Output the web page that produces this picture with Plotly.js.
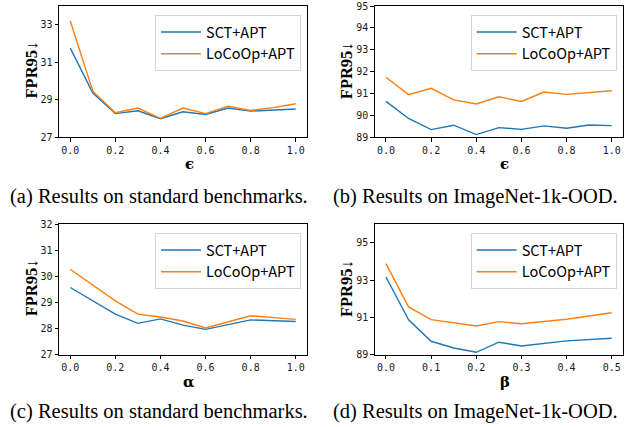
<!DOCTYPE html>
<html>
<head>
<meta charset="utf-8">
<script src="https://cdn.plot.ly/plotly-3.0.1.min.js"></script>
<style>html,body{margin:0;padding:0;background:#fff;}#chart{width:626px;height:427px;}</style>
</head>
<body>
<div id="chart"></div>
<script>
// ---- data ----
const epsilon = [0.0, 0.1, 0.2, 0.3, 0.4, 0.5, 0.6, 0.7, 0.8, 0.9, 1.0];
const aSCT   = [31.75, 29.35, 28.25, 28.40, 27.98, 28.35, 28.20, 28.55, 28.38, 28.45, 28.50];
const aLoCo  = [33.20, 29.45, 28.30, 28.55, 28.00, 28.55, 28.25, 28.65, 28.42, 28.57, 28.78];

const bSCT   = [90.63, 89.85, 89.34, 89.54, 89.11, 89.43, 89.35, 89.51, 89.40, 89.55, 89.52];
const bLoCo  = [91.74, 90.94, 91.23, 90.70, 90.51, 90.84, 90.63, 91.06, 90.95, 91.03, 91.12];

const alpha  = [0.0, 0.2, 0.3, 0.4, 0.5, 0.6, 0.8, 1.0];
const cSCT   = [29.57, 28.55, 28.20, 28.37, 28.13, 27.97, 28.33, 28.27];
const cLoCo  = [30.27, 29.06, 28.55, 28.44, 28.29, 28.02, 28.49, 28.35];

const beta   = [0.0, 0.05, 0.1, 0.15, 0.2, 0.25, 0.3, 0.4, 0.5];
const dSCT   = [93.16, 90.87, 89.72, 89.36, 89.13, 89.67, 89.47, 89.74, 89.88];
const dLoCo  = [93.88, 91.56, 90.88, 90.72, 90.54, 90.77, 90.66, 90.90, 91.25];

const seriesNames = ['SCT+APT', 'LoCoOp+APT'];
const xTitles = ['ϵ', 'ϵ', 'α', 'β'];
const yTitle = 'FPR95↓';
const captions = ['(a) Results on standard benchmarks.', '(b) Results on ImageNet-1k-OOD.',
                  '(c) Results on standard benchmarks.', '(d) Results on ImageNet-1k-OOD.'];

// ---- layout helpers ----
const W = 626, H = 427;
const px = v => v / W, py = v => 1 - v / H;
const BLUE = '#1f77b4', ORANGE = '#ff7f0e';

const panels = [
  {x: epsilon, s: aSCT, l: aLoCo, xd: [59, 307],  yd: [6, 137],  xr: [-0.05, 1.05], yr: [27, 34], dx: 0.2, dy: 2},
  {x: epsilon, s: bSCT, l: bLoCo, xd: [374.7, 623], yd: [6, 137], xr: [-0.05, 1.05], yr: [89, 95], dx: 0.2, dy: 1},
  {x: alpha,   s: cSCT, l: cLoCo, xd: [59, 307],  yd: [224, 354.7], xr: [-0.05, 1.05], yr: [27, 32], dx: 0.2, dy: 1},
  {x: beta,    s: dSCT, l: dLoCo, xd: [374.7, 623], yd: [224, 354.7], xr: [-0.025, 0.525], yr: [89, 96], dx: 0.1, dy: 2}
];

const traces = [];
const layout = {
  width: W, height: H,
  margin: {l: 0, r: 0, t: 0, b: 0},
  paper_bgcolor: '#fff', plot_bgcolor: '#fff',
  showlegend: true,
  annotations: []
};

const tickFont = {family: 'DejaVu Sans Mono', size: 10, color: '#1a1a1a'};
const titleFont = {family: 'Liberation Serif, DejaVu Serif, serif', size: 16.5, color: '#000', weight: 'bold'};

panels.forEach((p, i) => {
  const n = i + 1;
  const xa = n === 1 ? 'x' : 'x' + n, ya = n === 1 ? 'y' : 'y' + n;
  const lg = n === 1 ? 'legend' : 'legend' + n;
  traces.push({x: p.x, y: p.s, type: 'scatter', mode: 'lines', name: seriesNames[0],
               line: {color: BLUE, width: 1.4}, xaxis: xa, yaxis: ya, legend: lg});
  traces.push({x: p.x, y: p.l, type: 'scatter', mode: 'lines', name: seriesNames[1],
               line: {color: ORANGE, width: 1.4}, xaxis: xa, yaxis: ya, legend: lg});
  const common = {showline: true, mirror: true, linecolor: '#000', linewidth: 1,
                  ticks: 'outside', ticklen: 3.5, tickwidth: 1, tickcolor: '#000',
                  showgrid: false, zeroline: false, tickfont: tickFont, fixedrange: true};
  layout[n === 1 ? 'xaxis' : 'xaxis' + n] = Object.assign({}, common, {
    domain: [px(p.xd[0]), px(p.xd[1])], range: p.xr, dtick: p.dx, tick0: 0,
    tickformat: '.1f', anchor: ya});
  layout[n === 1 ? 'yaxis' : 'yaxis' + n] = Object.assign({}, common, {
    domain: [py(p.yd[1]), py(p.yd[0])], range: p.yr, dtick: p.dy, tick0: p.yr[0],
    anchor: xa});
  layout[lg] = {
    x: px(p.xd[0] + 242), xanchor: 'right', y: py(p.yd[0] + 9), yanchor: 'top',
    bgcolor: 'rgba(255,255,255,0.85)', bordercolor: '#d4d4d4', borderwidth: 1,
    font: {family: 'Noto Sans CJK SC, Noto Sans, sans-serif', size: 14.5, color: '#000'},
    tracegroupgap: 0, itemwidth: 40
  };
  const cx = (p.xd[0] + p.xd[1]) / 2;
  const cy = (p.yd[0] + p.yd[1]) / 2;
  // x title
  layout.annotations.push({text: '<b>' + xTitles[i] + '</b>', xref: 'paper', yref: 'paper',
    x: px(cx + 6), y: py(p.yd[1] + 27), xanchor: 'center', yanchor: 'middle', showarrow: false,
    font: {family: 'DejaVu Serif, Liberation Serif, serif', size: 15, color: '#000'}});
  // y title
  layout.annotations.push({text: '<b>' + yTitle + '</b>', xref: 'paper', yref: 'paper',
    x: px(p.xd[0] - 28), y: py(cy - 1), xanchor: 'center', yanchor: 'middle', showarrow: false,
    textangle: -90, font: titleFont});
});

// captions
const capPos = [[158.5, 196], [475.5, 196], [158.5, 411], [475.5, 411]];
captions.forEach((c, i) => {
  layout.annotations.push({text: c, xref: 'paper', yref: 'paper',
    x: px(capPos[i][0]), y: py(capPos[i][1]), xanchor: 'center', yanchor: 'middle', showarrow: false,
    font: {family: 'Liberation Serif, Times New Roman, serif', size: 20.5, color: '#000'}});
});

Plotly.newPlot('chart', traces, layout, {displayModeBar: false, staticPlot: true});
</script>
</body>
</html>
